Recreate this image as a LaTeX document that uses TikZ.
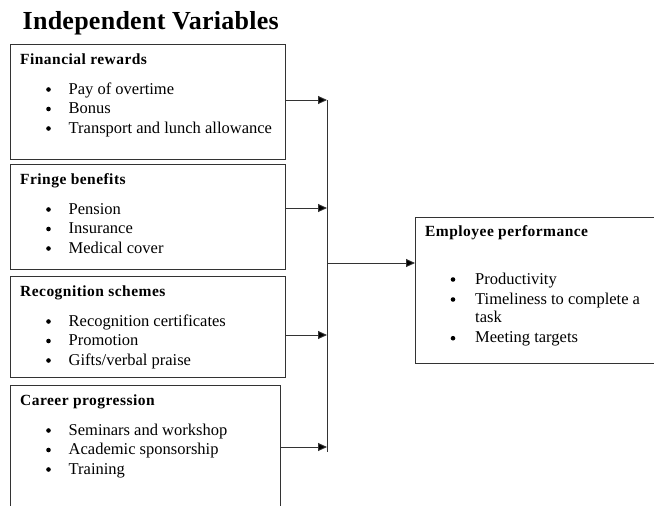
\documentclass[tikz,border=0pt]{standalone}
\usepackage{fontspec}
\setmainfont{Liberation Serif}
\newfontfamily\titlefont[LetterSpace=1]{Liberation Serif}
\newfontfamily\headfont[LetterSpace=3]{Liberation Serif}
\usetikzlibrary{arrows.meta}

\begin{document}
\begin{tikzpicture}[x=1pt, y=-1pt,
    box/.style={draw=black!80, line width=0.9pt, anchor=north west, inner sep=0pt, outer sep=0pt},
    title/.style={anchor=base west, inner sep=0pt, font=\titlefont\bfseries\fontsize{26}{30}\selectfont},
    head/.style={anchor=base west, inner sep=0pt, font=\headfont\bfseries\fontsize{15.5}{18}\selectfont},
    item/.style={anchor=base west, inner sep=0pt, font=\fontsize{16.5}{19.5}\selectfont},
    bul/.style={circle, fill=black, inner sep=0pt, minimum size=4.6pt},
    bus/.style={draw=black!80, line width=0.9pt},
    link/.style={draw=black!80, line width=0.9pt, -{Triangle[length=9pt,width=8pt,fill=black]}}]
    \useasboundingbox (0,0) rectangle (654,506);
    \clip (0,0) rectangle (654,506);
    \node[title] (T) at (22.5,29.3) {Independent Variables};

    % left boxes
    \node[box, minimum width=275pt, minimum height=115pt] (fin) at (10,44) {};
    \node[box, minimum width=275pt, minimum height=105pt] (fri) at (10,164) {};
    \node[box, minimum width=275pt, minimum height=101pt] (rec) at (10,276) {};
    \node[box, minimum width=270pt, minimum height=140pt] (car) at (10,385) {};
    \node[box, minimum width=260pt, minimum height=146pt] (emp) at (415,217) {};

    \node[head] (finH) at (20,64.3) {Financial rewards};
    \node[bul] (finB1) at (48.5,89.5) {};
    \node[bul] (finB2) at (48.5,109) {};
    \node[bul] (finB3) at (48.5,128.5) {};
    \node[item] (fin1) at (68.5,94) {Pay of overtime};
    \node[item] (fin2) at (68.5,113.5) {Bonus};
    \node[item] (fin3) at (68.5,133) {Transport and lunch allowance};

    \node[head] (friH) at (20,184.3) {Fringe benefits};
    \node[bul] (friB1) at (48.5,209.5) {};
    \node[bul] (friB2) at (48.5,229) {};
    \node[bul] (friB3) at (48.5,248.5) {};
    \node[item] (fri1) at (68.5,214) {Pension};
    \node[item] (fri2) at (68.5,233.5) {Insurance};
    \node[item] (fri3) at (68.5,253) {Medical cover};

    \node[head] (recH) at (20,296.3) {Recognition schemes};
    \node[bul] (recB1) at (48.5,321.5) {};
    \node[bul] (recB2) at (48.5,341) {};
    \node[bul] (recB3) at (48.5,360.5) {};
    \node[item] (rec1) at (68.5,326) {Recognition certificates};
    \node[item] (rec2) at (68.5,345.5) {Promotion};
    \node[item] (rec3) at (68.5,365) {Gifts/verbal praise};

    \node[head] (carH) at (20,405.3) {Career progression};
    \node[bul] (carB1) at (48.5,430.5) {};
    \node[bul] (carB2) at (48.5,450) {};
    \node[bul] (carB3) at (48.5,469.5) {};
    \node[item] (car1) at (68.5,435) {Seminars and workshop};
    \node[item] (car2) at (68.5,454.5) {Academic sponsorship};
    \node[item] (car3) at (68.5,474) {Training};

    % dependent variable
    \node[head] (empH) at (425,236) {Employee performance};
    \node[bul] (empB1) at (453,279.5) {};
    \node[bul] (empB2) at (453,299.5) {};
    \node[bul] (empB3) at (453,338.2) {};
    \node[item] (emp1) at (475,284) {Productivity};
    \node[item] (emp2) at (475,304) {Timeliness to complete a};
    \node[item] (emp2b) at (475,322.7) {task};
    \node[item] (emp3) at (475,342.7) {Meeting targets};

    \coordinate (bt) at (327,100);
    \coordinate (b2) at (327,208);
    \coordinate (b3) at (327,335);
    \coordinate (b4) at (327,447);
    \coordinate (bb) at (327,452);
    \coordinate (bm) at (327,263);

    \draw[bus] (bt) -- (bb);
    \path
      (fin.east |- bt) edge[link] (bt)
      (fri.east |- b2) edge[link] (b2)
      (rec.east |- b3) edge[link] (b3)
      (car.east |- b4) edge[link] (b4)
      (bm) edge[link] (emp.west |- bm);
\end{tikzpicture}
\end{document}
